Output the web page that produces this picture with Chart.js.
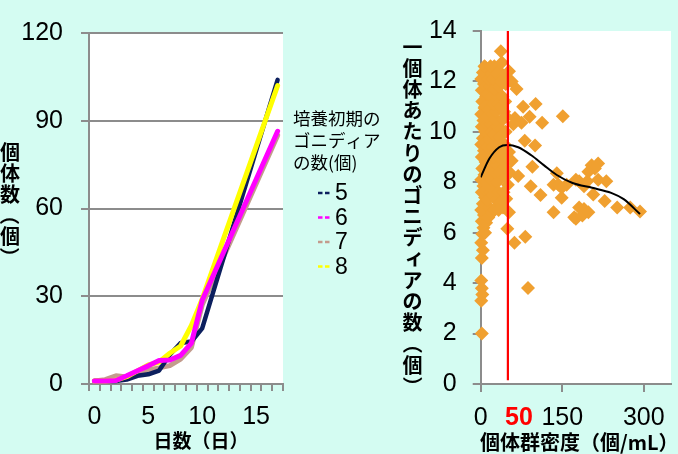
<!DOCTYPE html>
<html>
<head>
<meta charset="utf-8">
<script src="https://cdn.jsdelivr.net/npm/chart.js@4/dist/chart.umd.min.js"></script>
<style>
  html, body { margin: 0; padding: 0; width: 678px; height: 454px; overflow: hidden; background: #D4FCF2; }
  #growth { position: absolute; left: 0; top: 0; width: 390px; height: 454px; }
  #density { position: absolute; left: 390px; top: 0; width: 288px; height: 454px; }
</style>
</head>
<body>
<canvas id="growth" width="390" height="454"></canvas>
<canvas id="density" width="288" height="454"></canvas>
<script>
// ---- growth curves: number of individuals per day, by initial gonidia count ----
const days = ['0','1','2','3','4','5','6','7','8','9','10','11','12','13','14','15','16','17'];
const initialGonidia = ['5', '6', '7', '8'];
const seriesColors = ['#0C1F5E', '#FF00FF', '#C39B8D', '#FFFF00'];
const count5 = [1, 1, 1, 1.5, 2.8, 3.3, 4.6, 10, 14, 14.5, 19, null, null, null, null, null, null, 104];
const count6 = [1, 1, 1.2, 2.8, 4.5, 6.2, 8, 8.2, 9.8, 14, 28.6, null, null, null, null, null, null, 86.4];
const count7 = [1, 1.5, 2.8, 2.4, 3.5, 4.8, 5.5, 6.3, 8.5, 12.5, 27, null, null, null, null, null, null, 85];
const count8 = [1, 1, 1.3, 2.5, 4.5, 6.5, 7.5, 10.5, 13, 20, 29, null, null, null, null, null, null, 102];
const countTicks = [0, 30, 60, 90, 120];

// ---- gonidia per individual vs. population density ----
const colonyPoints = [
  [2,2.0],[1,3.3],[3,3.55],[2,3.8],[1,4.1],[2,5.0],[4,5.3],[1,5.6],[3,5.95],[5,6.2],[2,6.45],[6,6.7],
  [1,6.9],[4,7.15],[8,7.4],[2,7.6],[5,7.85],[1,8.1],[7,8.3],[3,8.55],[9,8.8],[2,9.0],[6,9.25],[1,9.5],
  [4,9.75],[8,10.0],[2,10.2],[5,10.45],[1,10.7],[7,10.95],[3,11.2],[10,11.4],[2,11.65],[6,11.9],[1,12.1],
  [4,12.35],[9,12.55],
  [8,6.0],[10,6.4],[7,6.9],[9,7.7],[11,8.0],[10,9.0],[9,9.6],[11,10.3],[8,11.0],[10,11.8],[7,12.6],
  [14,6.6],[16,7.0],[12,7.3],[18,7.6],[13,7.9],[17,8.2],[11,8.5],[15,8.8],[19,9.1],[12,9.4],[16,9.7],
  [13,10.0],[18,10.3],[11,10.6],[15,10.9],[19,11.2],[12,11.5],[17,11.8],[14,12.1],[20,12.3],
  [21,6.8],[22,7.5],[20,8.1],[22,8.7],[21,9.4],[20,10.0],[22,10.7],[21,11.4],[22,12.1],[18,12.6],
  [25,6.9],[28,7.3],[24,7.7],[30,8.0],[26,8.4],[29,8.7],[23,9.0],[31,9.3],[27,9.6],[24,9.9],[30,10.2],
  [26,10.5],[28,10.8],[23,11.1],[31,11.4],[25,11.7],[29,12.0],[25,12.6],[34,12.4],
  [33,7.6],[34,8.4],[32,9.0],[35,10.4],[33,11.1],[34,11.8],[30,12.3],
  [37,13.2],[39,12.75],[36,7.2],[42,7.6],[45,8.2],[40,8.9],[44,9.5],[38,10.1],[43,10.8],[40,11.4],
  [46,11.9],[47,7.35],[35,9.8],[37,11.0],[33,6.9],
  [41,7.0],[44,8.6],[39,9.2],[46,10.0],[41,10.5],[45,11.2],[42,12.2],[38,12.0],[48,9.0],[47,10.6],
  [52,12.4],[50,7.9],[53,8.4],
  [57,12.0],[66,11.7],[78,11.0],[101,11.1],[90,10.6],[113,10.36],[151,10.62],[75,10.36],[63,10.55],
  [60,10.3],[81,9.65],[100,9.46],[57,8.85],[52,9.2],[95,8.62],[69,8.25],[92,7.84],[110,7.5],
  [140,8.36],[134,7.9],[143,7.9],[158,7.9],[149,7.78],[149,7.39],[134,6.81],[175,8.1],[181,8.04],
  [196,8.04],[204,8.68],[216,8.75],[210,8.55],[198,8.42],[190,7.84],[216,8.1],[231,8.04],[207,7.52],
  [181,7.0],[172,6.61],[175,6.55],[187,6.68],[190,6.94],[198,6.81],[228,7.26],[251,7.0],[275,7.0],
  [293,6.84],[52,6.81],[49,6.16],[62,5.6],[82,5.84],[87,3.81]
];
const trendCurve = [
  [0,8.2],[16,8.94],[34,9.39],[49,9.48],[69,9.39],[93,9.07],[116,8.68],[140,8.29],
  [169,7.97],[205,7.78],[240,7.58],[263,7.33],[293,6.74]
];
const densityThreshold = 50;
const densityTicks = [0, 150, 300];
const gonidiaTicks = [0, 2, 4, 6, 8, 10, 12, 14];

const NUM_FONT = "'Liberation Sans', Arial, sans-serif";
const JP_FONT = "'Noto Sans CJK JP', 'Noto Sans', sans-serif";
const TICK_SIZE = 25;
const AXIS_GREY = '#8C8C8C';
Chart.defaults.font.family = NUM_FONT;
Chart.defaults.color = '#000';

const plotBackground = {
  id: 'plotBackground',
  beforeDraw(chart) {
    const { ctx, chartArea: a } = chart;
    ctx.save();
    ctx.fillStyle = '#FFFFFF';
    ctx.fillRect(a.left, a.top, a.right - a.left, a.bottom - a.top);
    ctx.restore();
  }
};

// stacked (tategaki) text; brackets are turned a quarter turn
function drawVertical(ctx, text, x, firstCenter, advance, font) {
  ctx.save();
  ctx.font = font;
  ctx.fillStyle = '#000';
  ctx.textAlign = 'center';
  ctx.textBaseline = 'middle';
  const small = 'ァィゥェォッャュョ';
  [...text].forEach((ch, i) => {
    const y = firstCenter + i * advance;
    if (ch === '（' || ch === '）') {
      ctx.save();
      ctx.translate(x, y);
      ctx.rotate(Math.PI / 2);
      ctx.fillText(ch, 0, 0);
      ctx.restore();
    } else if (small.includes(ch)) {
      ctx.fillText(ch, x + 2, y - 2);
    } else {
      ctx.fillText(ch, x, y);
    }
  });
  ctx.restore();
}

const growthText = {
  id: 'growthText',
  afterDraw(chart) {
    const ctx = chart.ctx;
    drawVertical(ctx, '個体数（個）', 10, 152, 21, `bold 20px ${JP_FONT}`);
    ctx.save();
    ctx.font = `bold 19px ${JP_FONT}`;
    ctx.textAlign = 'center';
    ctx.textBaseline = 'middle';
    ctx.fillStyle = '#000';
    ctx.fillText('日数（日）', 201, 441);

    // legend
    ctx.textAlign = 'left';
    ctx.font = `17.5px ${JP_FONT}`;
    ['培養初期の', 'ゴニディア', 'の数(個)'].forEach((line, i) => ctx.fillText(line, 293, 118 + i * 22));
    ctx.font = `23px ${NUM_FONT}`;
    initialGonidia.forEach((name, i) => {
      const y = 193 + i * 24.5;
      ctx.save();
      ctx.strokeStyle = seriesColors[i];
      ctx.lineWidth = 2.5;
      ctx.setLineDash([4.5, 2.5]);
      ctx.beginPath();
      ctx.moveTo(318, y);
      ctx.lineTo(330, y);
      ctx.stroke();
      ctx.restore();
      ctx.fillText(name, 335, y + 1);
    });
    ctx.restore();
  }
};

const seriesValues = [count5, count6, count7, count8];
const drawOrder = [2, 0, 3, 1];

new Chart(document.getElementById('growth'), {
  type: 'line',
  data: {
    labels: days,
    datasets: initialGonidia.map((name, i) => ({
      label: name,
      data: seriesValues[i],
      borderColor: seriesColors[i],
      backgroundColor: seriesColors[i],
      borderWidth: i === 0 ? 4.5 : 5,
      pointRadius: 0,
      spanGaps: true,
      tension: 0,
      borderCapStyle: 'round',
      borderJoinStyle: 'round',
      order: drawOrder[i]
    }))
  },
  options: {
    responsive: false,
    animation: false,
    devicePixelRatio: 1,
    layout: { padding: { top: 23, right: 107, left: 0, bottom: 0 } },
    plugins: { legend: { display: false }, tooltip: { enabled: false } },
    scales: {
      x: {
        type: 'category',
        offset: true,
        grid: { offset: true, drawOnChartArea: false, color: AXIS_GREY, lineWidth: 2, tickLength: 7 },
        border: { display: true, color: AXIS_GREY, width: 2 },
        ticks: {
          autoSkip: false, maxRotation: 0, minRotation: 0, padding: 11,
          font: { size: TICK_SIZE, family: NUM_FONT }, color: '#000',
          callback: (v, i) => (Number(days[i]) % 5 === 0 ? days[i] : '')
        },
        afterFit(scale) { scale.height = 70; }
      },
      y: {
        min: countTicks[0], max: countTicks[countTicks.length - 1],
        afterBuildTicks(scale) { scale.ticks = countTicks.map(v => ({ value: v })); },
        grid: { color: AXIS_GREY, lineWidth: 2, tickLength: 8 },
        border: { display: true, color: AXIS_GREY, width: 2 },
        ticks: { padding: 18, font: { size: TICK_SIZE, family: NUM_FONT }, color: '#000' },
        afterFit(scale) { scale.width = 89; }
      }
    }
  },
  plugins: [plotBackground, growthText]
});

const densityText = {
  id: 'densityText',
  afterDraw(chart) {
    const ctx = chart.ctx;
    drawVertical(ctx, '一個体あたりのゴニディアの数（個）', 22.5, 47, 21.2, `bold 20px ${JP_FONT}`);
    ctx.save();
    ctx.fillStyle = '#000';
    ctx.font = `bold 20px ${JP_FONT}`;
    ctx.textAlign = 'left';
    ctx.textBaseline = 'middle';
    ctx.fillText('個体群密度（個/mL）', 90, 442);
    const xs = chart.scales.x;
    ctx.fillStyle = '#FF0000';
    ctx.font = `bold 25px ${NUM_FONT}`;
    ctx.textAlign = 'center';
    ctx.fillText(String(densityThreshold), xs.getPixelForValue(densityThreshold) + 11, 418);
    ctx.restore();
  }
};

new Chart(document.getElementById('density'), {
  type: 'scatter',
  data: {
    datasets: [
      {
        data: [{ x: densityThreshold, y: 0.15 }, { x: densityThreshold, y: 14 }],
        showLine: true, borderColor: '#FF0000', borderWidth: 2.2, pointRadius: 0, order: 0
      },
      {
        data: trendCurve.map(([x, y]) => ({ x, y })),
        showLine: true, borderColor: '#000000', borderWidth: 2, pointRadius: 0,
        tension: 0.4, cubicInterpolationMode: 'monotone', order: 1
      },
      {
        data: colonyPoints.map(([x, y]) => ({ x, y })),
        pointStyle: 'rectRot', pointRadius: 7, backgroundColor: '#F0A030',
        borderWidth: 0, clip: false, order: 2
      }
    ]
  },
  options: {
    responsive: false,
    animation: false,
    devicePixelRatio: 1,
    layout: { padding: { top: 23, right: 0, left: 0, bottom: 0 } },
    plugins: { legend: { display: false }, tooltip: { enabled: false } },
    scales: {
      x: {
        type: 'linear', min: 0, max: 350,
        afterBuildTicks(scale) { scale.ticks = densityTicks.map(v => ({ value: v })); },
        grid: { drawOnChartArea: false, color: AXIS_GREY, lineWidth: 2, tickLength: 8 },
        border: { display: true, color: AXIS_GREY, width: 2 },
        ticks: { padding: 11, maxRotation: 0, font: { size: TICK_SIZE, family: NUM_FONT }, color: '#000' },
        afterFit(scale) { scale.height = 70; }
      },
      y: {
        min: 0, max: 14,
        afterBuildTicks(scale) { scale.ticks = gonidiaTicks.map(v => ({ value: v })); },
        grid: { drawOnChartArea: false, color: AXIS_GREY, lineWidth: 2, tickLength: 8 },
        border: { display: true, color: AXIS_GREY, width: 2 },
        ticks: { padding: 16, font: { size: TICK_SIZE, family: NUM_FONT }, color: '#000' },
        afterFit(scale) { scale.width = 90.7; }
      }
    }
  },
  plugins: [plotBackground, densityText]
});
</script>
</body>
</html>
